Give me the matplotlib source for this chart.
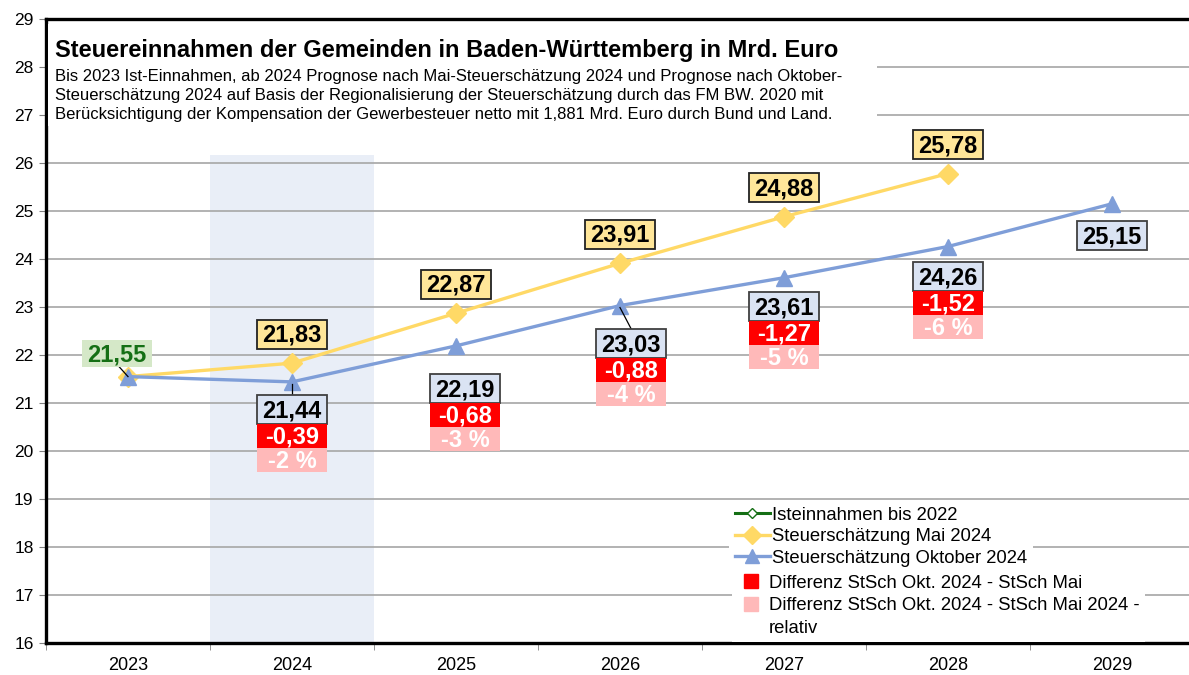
import matplotlib
matplotlib.use("Agg")
import matplotlib.pyplot as plt
from matplotlib.lines import Line2D
from matplotlib.patches import Rectangle
from matplotlib.transforms import ScaledTranslation

plt.rcParams['font.family'] = ['Liberation Sans', 'DejaVu Sans']

years = ['2023', '2024', '2025', '2026', '2027', '2028', '2029']
ist = [21.55]
mai = [21.55, 21.83, 22.87, 23.91, 24.88, 25.78]
okt = [21.55, 21.44, 22.19, 23.03, 23.61, 24.26, 25.15]
diff_abs = ['-0,39', '-0,68', '-0,88', '-1,27', '-1,52']
diff_rel = ['-2 %', '-3 %', '-4 %', '-5 %', '-6 %']
band_top = 26.17

title = 'Steuereinnahmen der Gemeinden in Baden-Württemberg in Mrd. Euro'
subtitle = ['Bis 2023 Ist-Einnahmen, ab 2024 Prognose nach Mai-Steuerschätzung 2024 und Prognose nach Oktober-',
            'Steuerschätzung 2024 auf Basis der Regionalisierung der Steuerschätzung durch das FM BW. 2020 mit',
            'Berücksichtigung der Kompensation der Gewerbesteuer netto mit 1,881 Mrd. Euro durch Bund und Land.']

c_mai = '#FFD966'
c_okt = '#7F9ED8'
c_green = '#156F15'

W, H = 1189, 675
fig = plt.figure(figsize=(W / 100, H / 100), dpi=100)
ax = fig.add_axes([46 / W, 32 / H, (1194 - 46) / W, (643 - 19) / H])

x_all = list(range(len(years)))

# highlighted 2024 column
ax.bar(1, band_top - 16, bottom=16, width=1.0, color='#E9EEF7', zorder=0.2)

ax.plot(x_all[:len(ist)], ist, color=c_green, lw=2.2, marker='D', ms=5,
        mfc='white', mec=c_green, zorder=3)
ax.plot(x_all[:len(mai)], mai, color=c_mai, lw=2.4, marker='D', ms=10, zorder=4)
ax.plot(x_all, okt, color=c_okt, lw=2.4, marker='^', ms=12, zorder=5)

ax.set_xlim(-0.5, 6.5)
ax.set_ylim(16, 29)
ax.set_yticks(range(16, 30))
ax.set_xticks(x_all)
ax.set_xticklabels(years, fontsize=13)
ax.set_xticks([i - 0.5 for i in range(8)], minor=True)
ax.tick_params(axis='x', which='major', length=0, pad=10)
ax.tick_params(axis='x', which='minor', length=5, color='#808080')
ax.tick_params(axis='y', length=5, color='#808080', labelsize=12.5, pad=4)
ax.yaxis.grid(True, color='#A6A6A6', lw=1.2)
ax.set_axisbelow(True)
for s in ['left', 'bottom', 'top']:
    ax.spines[s].set_linewidth(2.4)
    ax.spines[s].set_color('black')
ax.spines['right'].set_visible(False)


def box(xi, yv, dx, dy, w, h, txt, fc, ec, tc, fs=17):
    tr = fig.dpi_scale_trans + ScaledTranslation(xi, yv, ax.transData)
    r = Rectangle(((dx - w / 2) / 100, (dy - h / 2) / 100), w / 100, h / 100,
                  transform=tr, facecolor=fc, edgecolor=ec if ec else 'none',
                  lw=1.3, zorder=7, clip_on=False)
    ax.add_patch(r)
    ax.text(dx / 100, dy / 100 - 0.01, txt, transform=tr, ha='center', va='center',
            fontsize=fs, fontweight='bold', color=tc, zorder=8)
    return tr


def leader(xi, yv, p0, p1):
    tr = fig.dpi_scale_trans + ScaledTranslation(xi, yv, ax.transData)
    ax.add_line(Line2D([p0[0] / 100, p1[0] / 100], [p0[1] / 100, p1[1] / 100],
                       transform=tr, color='black', lw=0.9, zorder=6))


def fmt(v):
    return f'{v:.2f}'.replace('.', ',')


# Ist label
box(0, ist[0], -11, 23, 70, 27, fmt(ist[0]), '#D5E8C8', None, c_green)
leader(0, ist[0], (-9, 10), (0, 0))

# Mai labels
for i in range(1, len(mai)):
    box(i, mai[i], 0, 29, 70, 29, fmt(mai[i]), '#FFE699', '#222222', 'black')

# Okt labels with differences
okt_dx = [0, 0, 9, 11, 0, 0, 0]
okt_dy = [0, -28, -43, -38, -29, -30, -32]
for i in range(1, len(okt)):
    dx, dy = okt_dx[i], okt_dy[i]
    box(i, okt[i], dx, dy, 70, 29, fmt(okt[i]), '#DAE3F3', '#404040', 'black')
    if i - 1 < len(diff_abs):
        box(i, okt[i], dx, dy - 26.5, 70, 24, diff_abs[i - 1], '#FF0000', None, 'white')
        box(i, okt[i], dx, dy - 50.5, 70, 24, diff_rel[i - 1], '#FFB9B9', None, 'white')
leader(1, okt[1], (0, -2), (0, -13))
leader(3, okt[3], (0, -2), (11, -23))

# white panel behind the title
fig.add_artist(Rectangle((48 / W, 1 - 126 / H), (877 - 48) / W, (126 - 24) / H,
                         transform=fig.transFigure, facecolor='white',
                         edgecolor='none', zorder=2))
fig.text(55 / W, 1 - 57 / H, title, fontsize=17, fontweight='bold',
         va='baseline', zorder=3)
for k, line in enumerate(subtitle):
    fig.text(55 / W, 1 - (81 + 19 * k) / H, line, fontsize=12,
             va='baseline', zorder=3)

# legends
h_lines = [Line2D([], [], color=c_green, lw=2.2, marker='D', ms=5, mfc='white', mec=c_green),
           Line2D([], [], color=c_mai, lw=2.4, marker='D', ms=9),
           Line2D([], [], color=c_okt, lw=2.4, marker='^', ms=10)]
leg1 = ax.legend(h_lines, ['Isteinnahmen bis 2022', 'Steuerschätzung Mai 2024',
                           'Steuerschätzung Oktober 2024'],
                 loc='upper left', bbox_to_anchor=(729 / W, 1 - 501 / H),
                 bbox_transform=fig.transFigure, frameon=True, fancybox=False,
                 edgecolor='none', framealpha=1, fontsize=13.3, handlelength=1.9,
                 handletextpad=0.15, labelspacing=0.25, borderpad=0.3,
                 borderaxespad=0)
leg1.set_zorder(9)
ax.add_artist(leg1)
h_sq = [Line2D([], [], ls='none', marker='s', ms=10, color='#FF0000'),
        Line2D([], [], ls='none', marker='s', ms=10, color='#FFB9B9'),
        Line2D([], [], ls='none', marker='none')]
leg2 = ax.legend(h_sq, ['Differenz StSch Okt. 2024 - StSch Mai',
                        'Differenz StSch Okt. 2024 - StSch Mai 2024 -', 'relativ'],
                 loc='upper left', bbox_to_anchor=(732 / W, 1 - 569 / H),
                 bbox_transform=fig.transFigure, frameon=True, fancybox=False,
                 edgecolor='none', framealpha=1, fontsize=13.3, handlelength=1.5,
                 handletextpad=0.2, labelspacing=0.3, borderpad=0.3,
                 borderaxespad=0)
leg2.set_zorder(9)

fig.savefig('out.png', dpi=100)
